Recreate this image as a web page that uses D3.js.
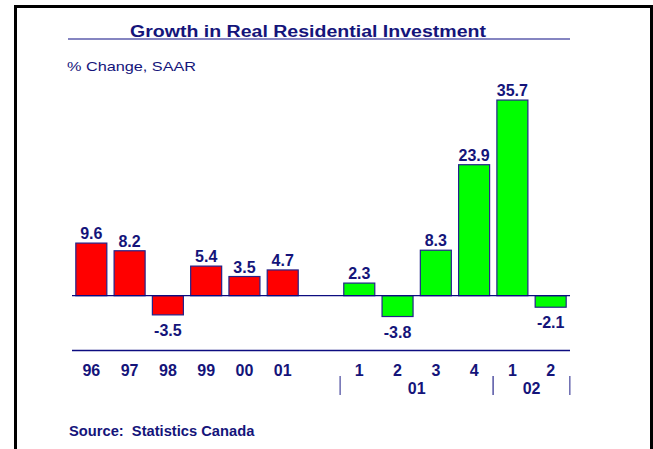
<!DOCTYPE html>
<html>
<head>
<meta charset="utf-8">
<script src="https://cdn.jsdelivr.net/npm/d3@7"></script>
<style>
  body { margin: 0; background: #fff; }
  svg { display: block; font-family: "Liberation Sans", Arial, sans-serif; }
</style>
</head>
<body>
<div id="chart"></div>
<script>
// annual growth
const years = ["96", "97", "98", "99", "00", "01"];
const yearValues = [9.6, 8.2, -3.5, 5.4, 3.5, 4.7];

// quarterly growth
const quarters = ["1", "2", "3", "4", "1", "2"];
const quarterYears = ["01", "01", "01", "01", "02", "02"];
const quarterValues = [2.3, -3.8, 8.3, 23.9, 35.7, -2.1];

const yDomain = [-10, 40];

const navy = "#14147a";

const width = 653, height = 449;

const svg = d3.select("#chart").append("svg")
    .attr("width", width)
    .attr("height", height);

// frame (no bottom edge)
svg.append("path")
    .attr("d", `M15.5,${height} V6.5 H651.5 V${height}`)
    .attr("fill", "none")
    .attr("stroke", "#000")
    .attr("stroke-width", 3);

// title
svg.append("text")
    .attr("transform", "translate(308,37) scale(1.15,1)")
    .attr("text-anchor", "middle")
    .style("font-size", "17px")
    .style("font-weight", "bold")
    .style("fill", navy)
    .text("Growth in Real Residential Investment");

svg.append("line")
    .attr("x1", 68).attr("x2", 570)
    .attr("y1", 39).attr("y2", 39)
    .attr("stroke", "#5c5cac")
    .attr("stroke-width", 1.6);

svg.append("text")
    .attr("transform", "translate(67,71) scale(1.25,1)")
    .style("font-size", "13px")
    .style("fill", navy)
    .text("% Change, SAAR");

// build rows
let rows = [];
years.forEach((y, i) => rows.push({ key: "y" + y, label: y, value: yearValues[i], color: "#ff0000" }));
rows.push({ key: "gap", label: "", value: null });
quarters.forEach((q, i) => rows.push({ key: "q" + quarterYears[i] + q, label: q, year: quarterYears[i], value: quarterValues[i], color: "#00ff00" }));

const xScale = d3.scaleBand()
    .domain(rows.map(d => d.key))
    .range([72, 570])
    .paddingInner(0.19)
    .paddingOuter(0.1);

const yScale = d3.scaleLinear()
    .domain(yDomain)
    .range([350.5, 76.5]);

const bars = rows.filter(d => d.value !== null);

svg.selectAll("rect.bar")
    .data(bars)
    .enter().append("rect")
    .attr("class", "bar")
    .attr("x", d => xScale(d.key))
    .attr("width", xScale.bandwidth())
    .attr("y", d => yScale(Math.max(0, d.value)))
    .attr("height", d => Math.abs(yScale(d.value) - yScale(0)))
    .attr("fill", d => d.color)
    .attr("stroke", "#23238a")
    .attr("stroke-width", 1.2);

// zero line
svg.append("line")
    .attr("x1", 72).attr("x2", 570)
    .attr("y1", yScale(0)).attr("y2", yScale(0))
    .attr("stroke", "#0c0c80")
    .attr("stroke-width", 1.3);

// bottom axis line
svg.append("line")
    .attr("x1", 72).attr("x2", 570)
    .attr("y1", yScale(yDomain[0])).attr("y2", yScale(yDomain[0]))
    .attr("stroke", "#0c0c80")
    .attr("stroke-width", 1.3);

// value labels
svg.selectAll("text.val")
    .data(bars)
    .enter().append("text")
    .attr("class", "val")
    .attr("x", d => xScale(d.key) + xScale.bandwidth() / 2)
    .attr("y", d => d.value >= 0 ? yScale(d.value) - 4 : yScale(d.value) + 21)
    .attr("text-anchor", "middle")
    .style("font-size", "16px")
    .style("font-weight", "bold")
    .style("fill", navy)
    .text(d => d.value.toFixed(1));

// category labels
svg.selectAll("text.cat")
    .data(bars)
    .enter().append("text")
    .attr("class", "cat")
    .attr("x", d => xScale(d.key) + xScale.bandwidth() / 2)
    .attr("y", 375.5)
    .attr("text-anchor", "middle")
    .style("font-size", "16px")
    .style("font-weight", "bold")
    .style("fill", navy)
    .text(d => d.label);

// year groups for quarters
const gapW = xScale.step() - xScale.bandwidth();
const groups = d3.groups(bars.filter(d => d.year), d => d.year).map(([yr, items]) => ({
    year: yr,
    x0: xScale(items[0].key) - gapW / 2,
    x1: xScale(items[items.length - 1].key) + xScale.bandwidth() + gapW / 2
}));

const seps = Array.from(new Set(groups.flatMap(g => [g.x0, g.x1])));

svg.selectAll("line.sep")
    .data(seps)
    .enter().append("line")
    .attr("class", "sep")
    .attr("x1", d => d).attr("x2", d => d)
    .attr("y1", 376).attr("y2", 395)
    .attr("stroke", "#6b6bb0")
    .attr("stroke-width", 1.5);

svg.selectAll("text.yr")
    .data(groups)
    .enter().append("text")
    .attr("class", "yr")
    .attr("x", d => (d.x0 + d.x1) / 2)
    .attr("y", 394)
    .attr("text-anchor", "middle")
    .style("font-size", "16px")
    .style("font-weight", "bold")
    .style("fill", navy)
    .text(d => d.year);

// source
svg.append("text")
    .attr("transform", "translate(69,436) scale(1.05,1)")
    .style("font-size", "14px")
    .style("font-weight", "bold")
    .style("fill", navy)
    .attr("xml:space", "preserve")
    .text("Source:  Statistics Canada");
</script>
</body>
</html>
